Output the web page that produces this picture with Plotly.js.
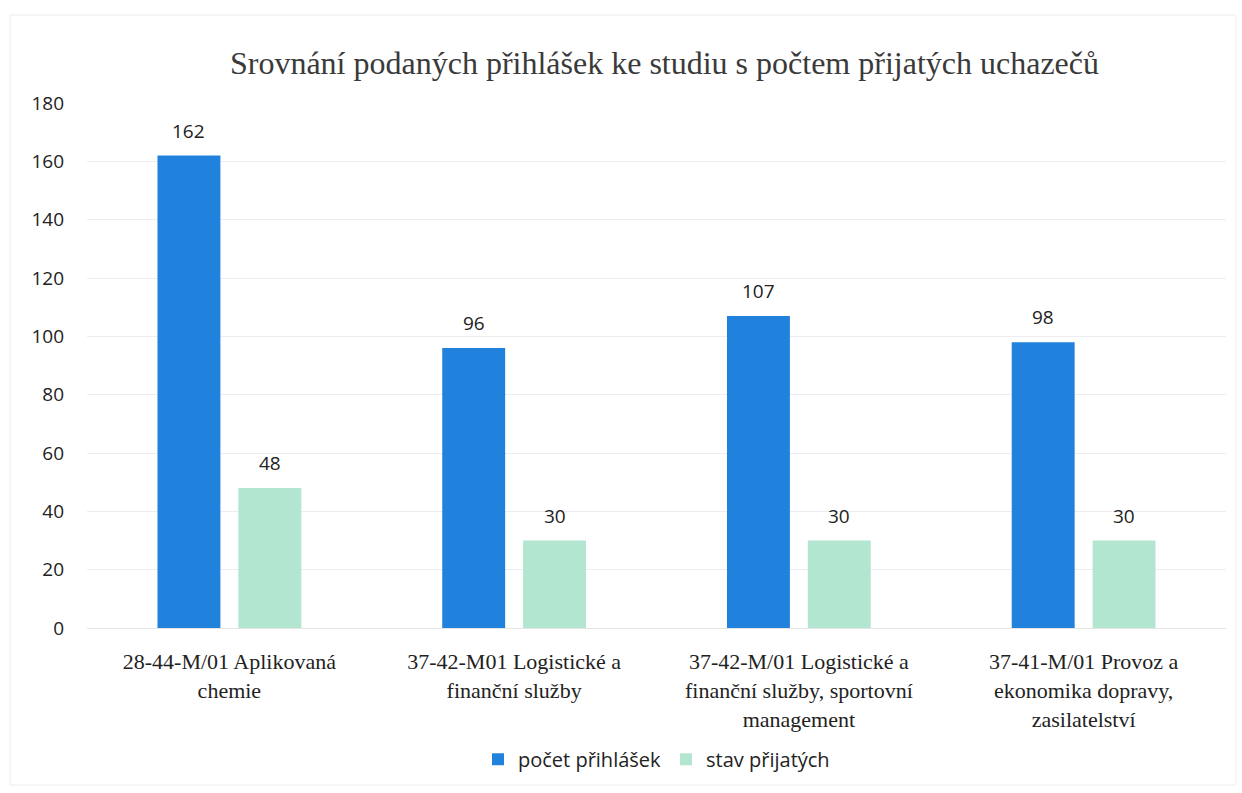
<!DOCTYPE html>
<html>
<head>
<meta charset="utf-8">
<script src="https://cdn.plot.ly/plotly-3.0.1.min.js"></script>
<style>html,body{margin:0;padding:0;background:#fff;}#chart{width:1242px;height:793px;}</style>
</head>
<body>
<div id="chart"></div>
<script>
const categories = [
  "28-44-M/01 Aplikovaná<br>chemie",
  "37-42-M01 Logistické a<br>finanční služby",
  "37-42-M/01 Logistické a<br>finanční služby, sportovní<br>management",
  "37-41-M/01 Provoz a<br>ekonomika dopravy,<br>zasilatelství"
];
const seriesNames = ["počet přihlášek", "stav přijatých"];
const prihlasky = [162, 96, 107, 98];
const prijati = [48, 30, 30, 30];
const yTicks = [0, 20, 40, 60, 80, 100, 120, 140, 160, 180];

const blue = "#2182dd";
const green = "#b3e6d0";
const sans = "'Open Sans', 'Noto Sans', sans-serif";
const serif = "'Liberation Serif', 'DejaVu Serif', serif";

const traces = [
  {type: "bar", name: seriesNames[0], x: categories, y: prihlasky, marker: {color: blue}, hoverinfo: "skip"},
  {type: "bar", name: seriesNames[1], x: categories, y: prijati, marker: {color: green}, hoverinfo: "skip"}
];

const annotations = [];
[prihlasky, prijati].forEach((vals, si) => {
  vals.forEach((v, i) => {
    annotations.push({
      x: categories[i], y: v, xref: "x", yref: "y",
      text: String(v), showarrow: false,
      xanchor: "center", yanchor: "bottom",
      xshift: si === 0 ? -40.5 : 40.5, yshift: 10,
      font: {family: sans, size: 19, color: "#222"}
    });
  });
});

const layout = {
  width: 1242, height: 793,
  paper_bgcolor: "#fff", plot_bgcolor: "#fff",
  margin: {l: 87, r: 16, t: 103, b: 165},
  title: {
    text: "Srovnání podaných přihlášek ke studiu s počtem přijatých uchazečů",
    font: {family: serif, size: 32, color: "#3a3a3a"},
    x: 0.535, xanchor: "center", y: 0.921, yanchor: "middle"
  },
  barmode: "group",
  bargap: 0.432,
  bargroupgap: 0.222,
  xaxis: {
    type: "category",
    showgrid: false, zeroline: false, showline: true,
    linecolor: "#e6e6e6", linewidth: 1,
    ticks: "", ticklabelstandoff: 14,
    tickfont: {family: serif, size: 22, color: "#222"}
  },
  yaxis: {
    range: [0, 180], tickvals: yTicks, ticktext: yTicks.map(String),
    showgrid: true, gridcolor: "#ececf2", gridwidth: 1,
    zeroline: false, showline: false, ticks: "",
    ticklabelstandoff: 22,
    tickfont: {family: sans, size: 19, color: "#222"}
  },
  legend: {
    orientation: "h", x: 0.5, xanchor: "center", y: -0.25, yanchor: "middle",
    font: {family: sans, size: 20, color: "#222"},
    traceorder: "normal", itemwidth: 30
  },
  annotations: annotations,
  shapes: [{
    type: "rect", xref: "paper", yref: "paper",
    x0: (10 - 87) / 1139, x1: (1236 - 87) / 1139,
    y0: (628 - 785) / 525, y1: (628 - 15) / 525,
    line: {color: "#ececec", width: 1}, fillcolor: "rgba(0,0,0,0)"
  }]
};

Plotly.newPlot("chart", traces, layout, {displayModeBar: false, staticPlot: true});
</script>
</body>
</html>
